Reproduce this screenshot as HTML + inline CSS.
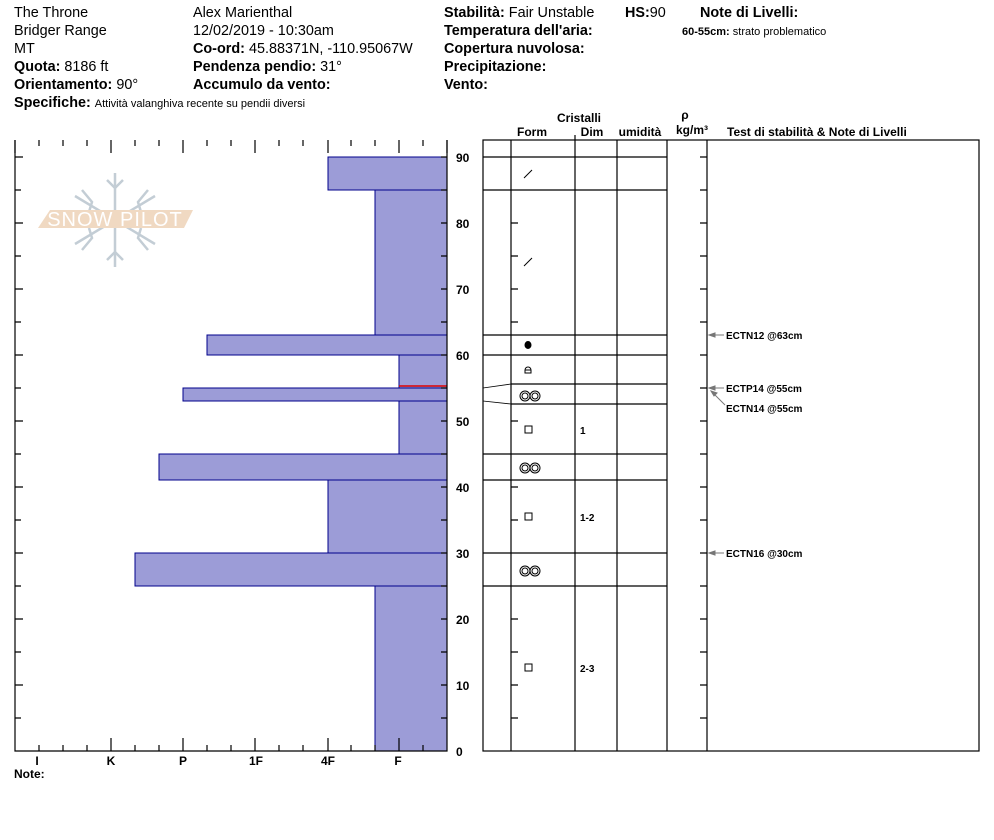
<!DOCTYPE html>
<html><head><meta charset="utf-8"><style>
body{margin:0;background:#fff}
svg{display:block}
text{font-family:"Liberation Sans",Arial,sans-serif;fill:#000}
.h{font-size:14.4px}
.b{font-weight:bold}
.t{font-size:12px;font-weight:bold}
.n{font-size:10px;font-weight:bold}
</style></head><body>
<svg width="994" height="840" viewBox="0 0 994 840" xmlns="http://www.w3.org/2000/svg">
<text x="14" y="17" class="h">The Throne</text>
<text x="14" y="35" class="h">Bridger Range</text>
<text x="14" y="53" class="h">MT</text>
<text x="14" y="71" class="h"><tspan class="b">Quota:</tspan> 8186 ft</text>
<text x="14" y="89" class="h"><tspan class="b">Orientamento:</tspan> 90°</text>
<text x="14" y="107" class="h"><tspan class="b">Specifiche:</tspan> <tspan style="font-size:11px">Attività valanghiva recente su pendii diversi</tspan></text>
<text x="193" y="17" class="h">Alex Marienthal</text>
<text x="193" y="35" class="h">12/02/2019 - 10:30am</text>
<text x="193" y="53" class="h"><tspan class="b">Co-ord:</tspan> 45.88371N, -110.95067W</text>
<text x="193" y="71" class="h"><tspan class="b">Pendenza pendio:</tspan> 31°</text>
<text x="193" y="89" class="h b">Accumulo da vento:</text>
<text x="444" y="17" class="h"><tspan class="b">Stabilità:</tspan> Fair Unstable</text>
<text x="625" y="17" class="h"><tspan class="b">HS:</tspan>90</text>
<text x="700" y="17" class="h b">Note di Livelli:</text>
<text x="682" y="35" style="font-size:11px"><tspan class="b">60-55cm:</tspan> strato problematico</text>
<text x="444" y="35" class="h b">Temperatura dell'aria:</text>
<text x="444" y="53" class="h b">Copertura nuvolosa:</text>
<text x="444" y="71" class="h b">Precipitazione:</text>
<text x="444" y="89" class="h b">Vento:</text>
<!-- logo -->
<g stroke="#c3cdd5" stroke-width="2.5" fill="none">
<line x1="115" y1="173" x2="115" y2="267"/>
<line x1="75" y1="196" x2="155" y2="244"/>
<line x1="75" y1="244" x2="155" y2="196"/>
<path d="M107,180l8,8l8,-8 M107,260l8,-8l8,8 M82,190l10,12l-3,10 M148,190l-10,12l3,10 M82,250l10,-12l-3,-10 M148,250l-10,-12l3,-10"/>
</g>
<polygon points="50,210 193,210 184,228 38,228" fill="#f0d9c2"/>
<text x="115" y="226" text-anchor="middle" style="font-size:20px;fill:#fff;letter-spacing:1px">SNOW PILOT</text>
<g fill="#9c9cd7" stroke="#00008b" stroke-width="1">
<rect x="328" y="157" width="119" height="33"/>
<rect x="375" y="190" width="72" height="145"/>
<rect x="207" y="335" width="240" height="20"/>
<rect x="399" y="355" width="48" height="33"/>
<rect x="183" y="388" width="264" height="13"/>
<rect x="399" y="401" width="48" height="53"/>
<rect x="159" y="454" width="288" height="26"/>
<rect x="328" y="480" width="119" height="73"/>
<rect x="135" y="553" width="312" height="33"/>
<rect x="375" y="586" width="72" height="165"/>
</g>
<line x1="399" y1="386" x2="447" y2="386" stroke="#d00" stroke-width="1.5"/>
<g stroke="#000" stroke-width="1.2" fill="none">
<polyline points="15,140 15,751 447,751 447,140"/>
<path d="
M15,140v13 M39,140v6 M63,140v6 M87,140v6 M111,140v13 M135,140v6 M159,140v6 M183,140v13 M207,140v6 M231,140v6 M255,140v13 M279,140v6 M303,140v6 M328,140v13 M351,140v6 M375,140v6 M399,140v13 M423,140v6 M447,140v13
M39,751v-6 M63,751v-6 M87,751v-6 M111,751v-13 M135,751v-6 M159,751v-6 M183,751v-13 M207,751v-6 M231,751v-6 M255,751v-13 M279,751v-6 M303,751v-6 M328,751v-13 M351,751v-6 M375,751v-6 M399,751v-13 M423,751v-6
M15,157h8 M15,190h6 M15,223h8 M15,256h6 M15,289h8 M15,322h6 M15,355h8 M15,388h6 M15,421h8 M15,454h6 M15,487h8 M15,520h6 M15,553h8 M15,586h6 M15,619h8 M15,652h6 M15,685h8 M15,718h6
M447,157h-6 M447,190h-6 M447,223h-6 M447,256h-6 M447,289h-6 M447,322h-6 M447,355h-6 M447,388h-6 M447,421h-6 M447,454h-6 M447,487h-6 M447,520h-6 M447,553h-6 M447,586h-6 M447,619h-6 M447,652h-6 M447,685h-6 M447,718h-6"/>
</g>
<text x="37" y="765" text-anchor="middle" class="t">I</text>
<text x="111" y="765" text-anchor="middle" class="t">K</text>
<text x="183" y="765" text-anchor="middle" class="t">P</text>
<text x="256" y="765" text-anchor="middle" class="t">1F</text>
<text x="328" y="765" text-anchor="middle" class="t">4F</text>
<text x="398" y="765" text-anchor="middle" class="t">F</text>
<text x="14" y="778" class="t">Note:</text>
<text x="456" y="162" class="t">90</text><text x="456" y="228" class="t">80</text><text x="456" y="294" class="t">70</text>
<text x="456" y="360" class="t">60</text><text x="456" y="426" class="t">50</text><text x="456" y="492" class="t">40</text>
<text x="456" y="558" class="t">30</text><text x="456" y="624" class="t">20</text><text x="456" y="690" class="t">10</text>
<text x="456" y="756" class="t">0</text>
<text x="579" y="122" text-anchor="middle" class="t">Cristalli</text>
<text x="532" y="136" text-anchor="middle" class="t">Form</text>
<text x="592" y="136" text-anchor="middle" class="t">Dim</text>
<text x="640" y="136" text-anchor="middle" class="t">umidità</text>
<text x="685" y="119" text-anchor="middle" class="t">ρ</text>
<text x="692" y="134" text-anchor="middle" class="t">kg/m³</text>
<text x="727" y="136" class="t">Test di stabilità &amp; Note di Livelli</text>
<g stroke="#000" stroke-width="1.2" fill="none">
<rect x="483" y="140" width="496" height="611"/>
<path d="M511,140V751 M575,135V751 M617,140V751 M667,140V751 M707,140V751"/>
<path d="M483,157H667 M483,190H667 M483,335H667 M483,355H667 M511,384H667 M511,404H667 M483,454H667 M483,480H667 M483,553H667 M483,586H667"/>
<path d="M483,388L511,384 M483,401L511,404" stroke-width="0.8"/>
<path d="M511,223h7 M511,256h7 M511,289h7 M511,322h7 M511,421h7 M511,487h7 M511,520h7 M511,619h7 M511,652h7 M511,685h7 M511,718h7
M707,157h-7 M707,190h-7 M707,223h-7 M707,256h-7 M707,289h-7 M707,322h-7 M707,355h-7 M707,388h-7 M707,421h-7 M707,454h-7 M707,487h-7 M707,520h-7 M707,553h-7 M707,586h-7 M707,619h-7 M707,652h-7 M707,685h-7 M707,718h-7"/>
</g>
<g stroke="#000" fill="none" stroke-width="1">
<line x1="524" y1="178" x2="532" y2="170"/>
<line x1="524" y1="266" x2="532" y2="258"/>
<ellipse cx="528" cy="345" rx="3" ry="3.5" fill="#000"/>
<path d="M525,373v-3a3,3 0 0 1 6,0v3z M525,370h6"/>
<g id="rr"><circle cx="525" cy="396" r="5"/><circle cx="525" cy="396" r="3"/><circle cx="535" cy="396" r="5"/><circle cx="535" cy="396" r="3"/></g>
<use href="#rr" y="72"/><use href="#rr" y="175"/>
<rect x="525" y="426" width="7" height="7"/>
<rect x="525" y="513" width="7" height="7"/>
<rect x="525" y="664" width="7" height="7"/>
</g>
<text x="580" y="434" class="n">1</text>
<text x="580" y="521" class="n">1-2</text>
<text x="580" y="672" class="n">2-3</text>
<g stroke="#777" fill="#777" stroke-width="1">
<line x1="710" y1="335" x2="724" y2="335"/><polygon points="709,335 715,333 715,337"/>
<line x1="710" y1="388" x2="724" y2="388"/><polygon points="709,388 715,386 715,390"/>
<line x1="712" y1="392" x2="725" y2="405"/><polygon points="711,391 717,393 714,396"/>
<line x1="710" y1="553" x2="724" y2="553"/><polygon points="709,553 715,551 715,555"/>
</g>
<text x="726" y="339" class="n">ECTN12 @63cm</text>
<text x="726" y="392" class="n">ECTP14 @55cm</text>
<text x="726" y="412" class="n">ECTN14 @55cm</text>
<text x="726" y="557" class="n">ECTN16 @30cm</text>
</svg>
</body></html>
